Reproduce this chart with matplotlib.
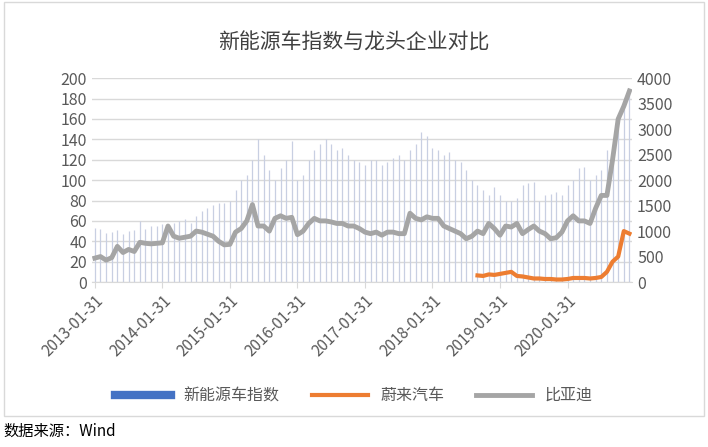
import matplotlib
matplotlib.use("Agg")
import matplotlib.pyplot as plt
import numpy as np
import pandas as pd

plt.rcParams['font.family'] = ['Noto Sans CJK SC', 'DejaVu Sans']

dates = pd.date_range("2013-01-31", periods=96, freq="ME")
index_vals = [53,52,48,49,51,47,50,51,60,52,55,55,
              57,55,58,60,62,58,65,70,73,76,78,78,
              80,90,100,105,120,140,125,110,100,112,120,138,
              100,105,120,130,135,140,135,130,132,125,120,118,
              115,120,120,115,118,122,125,120,130,135,147,143,
              132,130,125,128,120,118,110,100,95,90,85,93,
              85,80,80,82,95,97,98,80,85,86,88,85,
              95,100,112,113,100,105,110,130,130,150,170,185]
byd = [470,500,430,480,700,580,640,600,780,760,750,760,
       770,1100,900,860,880,900,1000,980,940,900,800,730,
       740,980,1050,1200,1520,1100,1100,1000,1250,1300,1250,1270,
       930,1000,1150,1250,1200,1200,1180,1150,1150,1100,1100,1050,
       980,950,980,920,980,980,950,950,1350,1250,1220,1280,
       1250,1250,1100,1050,1000,950,850,900,1000,950,1150,1050,
       920,1100,1080,1150,950,1030,1100,1000,950,850,870,980,
       1200,1300,1200,1200,1150,1450,1700,1700,2400,3200,3450,3750]
nio = [130,120,150,140,160,180,200,120,110,90,70,70,60,60,50,50,60,80,80,80,
       70,80,100,200,400,500,1000,950]
nio_start = 68
tick_labels = [f"{y}-01-31" for y in range(2013, 2021)]

fig = plt.figure(figsize=(7.08, 4.47), dpi=100)
ax = fig.add_axes([0.13, 0.369, 0.763, 0.456])
ax2 = ax.twinx()
x = np.arange(len(dates))
ax.vlines(x, 0, index_vals, color='#c8cfe2', lw=0.9, label='新能源车指数', zorder=2)
ax2.plot(x, byd, color='#a5a5a5', lw=3.5, label='比亚迪', zorder=3)
ax2.plot(x[nio_start:nio_start+len(nio)], nio, color='#ed7d31', lw=3, label='蔚来汽车', zorder=4)
ax.set_ylim(0, 200); ax.set_yticks(range(0, 201, 20))
ax2.set_ylim(0, 4000); ax2.set_yticks(range(0, 4001, 500))
ax.set_xlim(-0.5, len(dates) - 0.5)
ax.set_xticks(x[::12]); ax.set_xticklabels(tick_labels, rotation=45, ha='right', rotation_mode='anchor')
ax.grid(axis='y', color='#d9d9d9', lw=1, zorder=0)
ax.set_axisbelow(True)
for a in (ax, ax2):
    for s in a.spines.values(): s.set_visible(False)
    a.tick_params(length=0, labelsize=11.5, colors='#595959')
ax.spines['bottom'].set_visible(True); ax.spines['bottom'].set_color('#d9d9d9')
ax.tick_params(axis='x', length=4, color='#d9d9d9', labelsize=11)
fig.suptitle('新能源车指数与龙头企业对比', y=0.93, fontsize=15, color='#404040')
from matplotlib.patches import Patch
from matplotlib.lines import Line2D
handles = [Line2D([], [], color='#4472c4', lw=6), Line2D([], [], color='#ed7d31', lw=3), Line2D([], [], color='#a5a5a5', lw=3.5)]
fig.legend(handles, ['新能源车指数', '蔚来汽车', '比亚迪'], loc='center', bbox_to_anchor=(0.5, 0.115),
           ncol=3, frameon=False, fontsize=11.5, labelcolor='#595959', handlelength=3.5, columnspacing=2)
fig.add_artist(plt.Rectangle((0.005, 0.07), 0.99, 0.925, transform=fig.transFigure, fill=False, ec='#d9d9d9', lw=1))
fig.text(0.005, 0.025, '数据来源：Wind', fontsize=11, style='italic', color='black')
fig.savefig('out.png', dpi=100)
